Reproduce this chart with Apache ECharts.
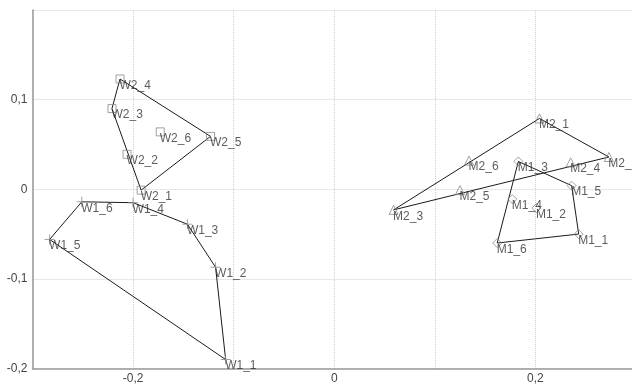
<!DOCTYPE html>
<html><head><meta charset="utf-8">
<script src="https://cdn.jsdelivr.net/npm/echarts@6/dist/echarts.min.js"></script>
<style>html,body{margin:0;padding:0;background:#fff}#c{width:632px;height:385px}</style>
</head><body><div id="c"></div>
<script>
// Data
const w1Names = ['W1_1','W1_2','W1_3','W1_4','W1_5','W1_6'];
const w1X = [-0.108, -0.118, -0.146, -0.200, -0.283, -0.251];
const w1Y = [-0.190, -0.087, -0.039, -0.015, -0.056, -0.014];
const w1Hull = ['W1_6','W1_4','W1_3','W1_2','W1_1','W1_5','W1_6'];

const w2Names = ['W2_1','W2_2','W2_3','W2_4','W2_5','W2_6'];
const w2X = [-0.192, -0.206, -0.221, -0.213, -0.123, -0.173];
const w2Y = [-0.001, 0.039, 0.090, 0.123, 0.059, 0.064];
const w2Hull = ['W2_4','W2_5','W2_1','W2_3','W2_4'];

const m1Names = ['M1_1','M1_2','M1_3','M1_4','M1_5','M1_6'];
const m1X = [0.243, 0.201, 0.183, 0.177, 0.236, 0.162];
const m1Y = [-0.050, -0.021, 0.031, -0.011, 0.004, -0.060];
const m1Hull = ['M1_3','M1_5','M1_1','M1_6','M1_3'];

const m2Names = ['M2_1','M2_2','M2_3','M2_4','M2_5','M2_6'];
const m2X = [0.204, 0.273, 0.059, 0.235, 0.125, 0.134];
const m2Y = [0.079, 0.036, -0.023, 0.030, -0.001, 0.032];
const m2Hull = ['M2_3','M2_1','M2_2','M2_3'];

const xTickLabels = [-0.2, 0, 0.2];
const yTickLabels = [-0.2, -0.1, 0, 0.1];

const FONT = 'Liberation Sans, Arial, sans-serif';
const markerColor = '#8a8a8a';
const plusPath = 'path://M0,5L10,5M5,0L5,10';

function pts(names, xs, ys) { return names.map((n, i) => ({name: n, value: [xs[i], ys[i]]})); }
function hull(order, names, xs, ys) { return order.map(n => { const i = names.indexOf(n); return [xs[i], ys[i]]; }); }
function fmt(v) { return String(Math.round(v * 10) / 10).replace('.', ','); }
function near(v, arr) { return arr.some(a => Math.abs(a - v) < 1e-9); }

const groups = [
  {names: w1Names, xs: w1X, ys: w1Y, hull: w1Hull, symbol: plusPath, size: 10},
  {names: w2Names, xs: w2X, ys: w2Y, hull: w2Hull, symbol: 'rect', size: 8},
  {names: m1Names, xs: m1X, ys: m1Y, hull: m1Hull, symbol: 'diamond', size: 9},
  {names: m2Names, xs: m2X, ys: m2Y, hull: m2Hull, symbol: 'triangle', size: 9}
];

const series = [];
groups.forEach(g => {
  series.push({
    type: 'line', data: hull(g.hull, g.names, g.xs, g.ys), symbol: 'none', silent: true,
    lineStyle: {color: '#1a1a1a', width: 1}, z: 2, animation: false
  });
});
groups.forEach(g => {
  series.push({
    type: 'scatter', data: pts(g.names, g.xs, g.ys), symbol: g.symbol, symbolSize: g.size,
    itemStyle: {color: 'transparent', borderColor: markerColor, borderWidth: 1},
    label: {show: true, formatter: p => p.name, position: [g.size / 2, g.size / 2 + 1],
      align: 'left', verticalAlign: 'top', color: '#333', fontSize: 12, fontFamily: FONT},
    z: 3, animation: false
  });
});

const chart = echarts.init(document.getElementById('c'));
chart.setOption({
  animation: false,
  grid: {left: 32.5, right: 0, top: 10, bottom: 16.5, containLabel: false},
  xAxis: {
    type: 'value', min: -0.3, max: 0.296, interval: 0.1,
    axisLine: {show: true, onZero: false, lineStyle: {color: '#9a9a9a', width: 1.5}},
    axisTick: {show: false},
    splitLine: {show: true, showMaxLine: false, lineStyle: {color: '#cfcfcf', type: 'dotted', width: 1}},
    axisLabel: {color: '#444', fontSize: 12, fontFamily: FONT, margin: 4, showMaxLabel: false,
      formatter: v => near(v, xTickLabels) ? fmt(v) : ''}
  },
  yAxis: {
    type: 'value', min: -0.2, max: 0.2, interval: 0.1,
    axisLine: {show: true, onZero: false, lineStyle: {color: '#9a9a9a', width: 1.5}},
    axisTick: {show: false},
    splitLine: {show: true, lineStyle: {color: '#cfcfcf', type: 'dotted', width: 1}},
    axisLabel: {color: '#444', fontSize: 12, fontFamily: FONT, margin: 5,
      formatter: v => near(v, yTickLabels) ? fmt(v) : ''}
  },
  series: series
});
</script></body></html>
